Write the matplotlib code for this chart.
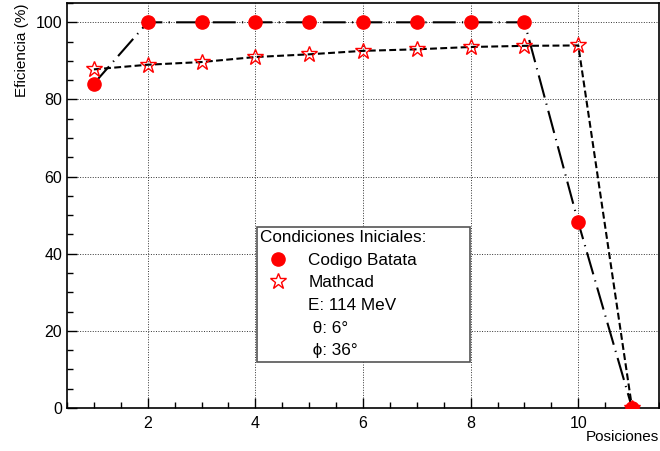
import matplotlib
matplotlib.use("Agg")
import matplotlib.pyplot as plt
from matplotlib.lines import Line2D
from matplotlib.ticker import MultipleLocator

plt.rcParams["font.family"] = ["Liberation Sans", "DejaVu Sans"]

# data
posiciones = [1, 2, 3, 4, 5, 6, 7, 8, 9, 10, 11]
batata = [84.1, 100, 100, 100, 100, 100, 100, 100, 100, 48.1, 0]
mathcad = [87.8, 89.0, 89.7, 91.0, 91.7, 92.6, 93.0, 93.6, 93.9, 94.0, 0]

fig = plt.figure(figsize=(6.6, 4.51), dpi=100)
ax = fig.add_axes([0.1015, 0.0953, 0.897, 0.898])

ax.plot(posiciones, mathcad, color="black", lw=1.5, dashes=(3.3, 1.6), zorder=2)
ax.plot(posiciones, mathcad, ls="none", marker="*", ms=12, mfc="none",
        mec="red", mew=1.0, zorder=4)
ax.plot(posiciones, batata, color="black", lw=1.5, dashes=(11, 3, 0.6, 3), zorder=3)
ax.plot(posiciones, batata, ls="none", marker="o", ms=9.5, mfc="red",
        mec="red", zorder=5)

ax.set_xlim(0.5, 11.5)
ax.set_ylim(0, 105)
ax.xaxis.set_major_locator(MultipleLocator(2))
ax.xaxis.set_minor_locator(MultipleLocator(0.5))
ax.yaxis.set_major_locator(MultipleLocator(20))
ax.yaxis.set_minor_locator(MultipleLocator(5))
ax.tick_params(which="both", direction="in", labelsize=11.5, top=False, right=False)
ax.tick_params(which="major", length=7, width=1)
ax.tick_params(which="minor", length=4, width=1)
ax.tick_params(axis="x", pad=6)
ax.grid(True, which="major", color="#333333", ls=(0, (1, 1.6)), lw=0.7)
for s in ax.spines.values():
    s.set_linewidth(1.2)

ax.set_ylabel("Eficiencia (%)", loc="top", fontsize=11)
ax.yaxis.set_label_coords(-0.065, 1.0)
fig.text(0.9985, 0.015, "Posiciones", ha="right", va="bottom", fontsize=11)

blank = Line2D([], [], ls="none")
handles = [
    Line2D([], [], ls="none", marker="o", ms=9.5, mfc="red", mec="red"),
    Line2D([], [], ls="none", marker="*", ms=12, mfc="none", mec="red", mew=1.0),
    blank, blank, blank,
]
labels = ["Codigo Batata", "Mathcad", "E: 114 MeV", " \u03b8: 6\u00b0", " \u03d5: 36\u00b0"]
leg = ax.legend(handles, labels, title="Condiciones Iniciales:",
                loc="lower left", bbox_to_anchor=(0.321, 0.114, 0.36, 0.335),
                mode="expand", alignment="left", fontsize=12.3, title_fontsize=12.3,
                fancybox=False, framealpha=1, edgecolor="#555555",
                borderpad=0.2, labelspacing=0.45, handletextpad=0.8,
                handlelength=2.0, borderaxespad=0)
leg.get_frame().set_linewidth(1.2)
leg.set_zorder(10)

fig.savefig("out.png", dpi=100)
